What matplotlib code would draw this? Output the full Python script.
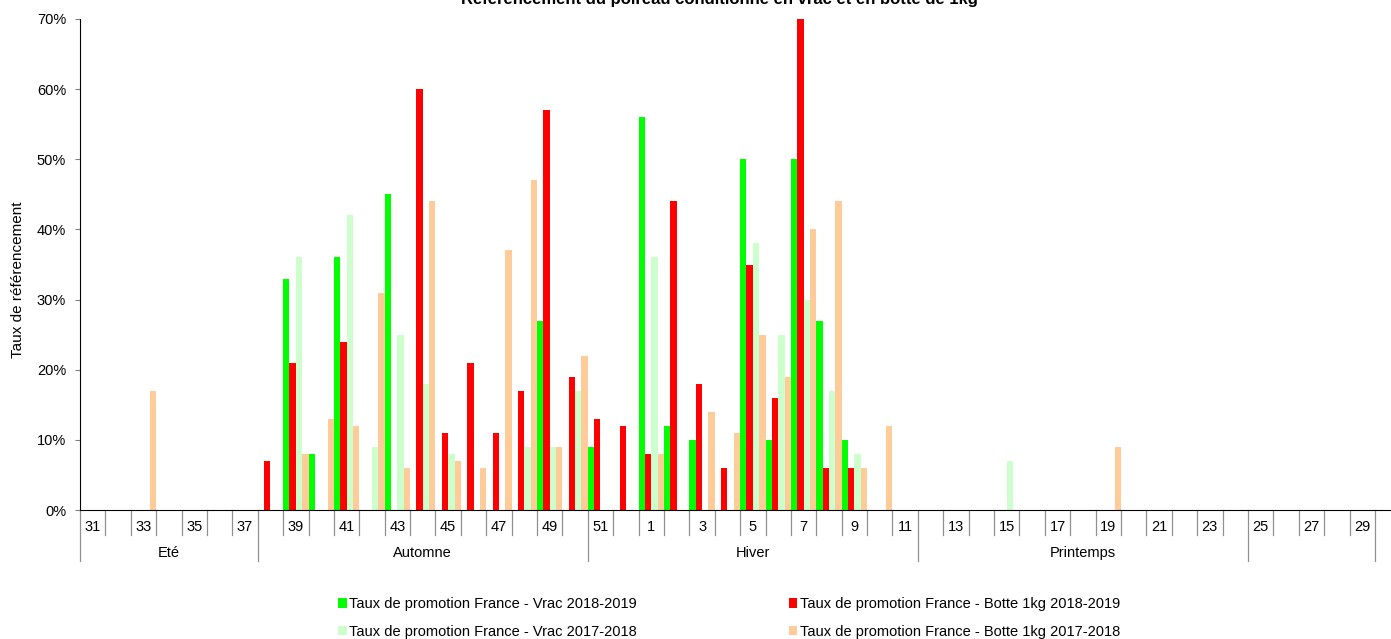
import matplotlib.pyplot as plt
import matplotlib.transforms as mtransforms
from matplotlib.patches import Patch
import numpy as np

plt.rcParams["font.family"] = ["Liberation Sans", "DejaVu Sans"]

# weeks 31..52 then 1..30
weeks = list(range(31, 53)) + list(range(1, 31))

#                 31-37                  38-50                                          51-11                                      12-24                     25-30
vrac_2018_19  = [0, 0, 0, 0, 0, 0, 0] + [0, 33, 8, 36, 0, 45, 0, 0, 0, 0, 0, 27, 0] + [9, 0, 56, 12, 10, 0, 50, 10, 50, 27, 10, 0, 0] + [0] * 13 + [0] * 6
botte_2018_19 = [0, 0, 0, 0, 0, 0, 0] + [7, 21, 0, 24, 0, 0, 60, 11, 21, 11, 17, 57, 19] + [13, 12, 8, 44, 18, 6, 35, 16, 70, 6, 6, 0, 0] + [0] * 13 + [0] * 6
vrac_2017_18  = [0, 0, 0, 0, 0, 0, 0] + [0, 36, 0, 42, 9, 25, 18, 8, 0, 0, 9, 9, 17] + [0, 0, 36, 0, 0, 0, 38, 25, 30, 17, 8, 0, 0] + [0, 0, 0, 7, 0, 0, 0, 0, 0, 0, 0, 0, 0] + [0] * 6
botte_2017_18 = [0, 0, 17, 0, 0, 0, 0] + [0, 8, 13, 12, 31, 6, 44, 7, 6, 37, 47, 9, 22] + [0, 0, 8, 0, 14, 11, 25, 19, 40, 44, 6, 12, 0] + [0, 0, 0, 0, 0, 0, 0, 9, 0, 0, 0, 0, 0] + [0] * 6

seasons = ["Eté", "Automne", "Hiver", "Printemps", ""]
season_lengths = [7, 13, 13, 13, 5]

series = [
    ("Taux de promotion France - Vrac 2018-2019", vrac_2018_19, "#00FF00"),
    ("Taux de promotion France - Botte 1kg 2018-2019", botte_2018_19, "#FF0000"),
    ("Taux de promotion France - Vrac 2017-2018", vrac_2017_18, "#CCFFCC"),
    ("Taux de promotion France - Botte 1kg 2017-2018", botte_2017_18, "#FFCC99"),
]

W, H = 1391, 639
fig = plt.figure(figsize=(W / 100, H / 100), dpi=100)
ax = fig.add_axes([80 / W, 1 - 510 / H, 1 - 80 / W, (510 - 19) / H])

x = np.arange(len(weeks))
bw = 0.25
for k, (name, vals, col) in enumerate(series):
    ax.bar(x + (k - 1.5) * bw, vals, width=bw, color=col, linewidth=0)

ax.set_ylim(0, 70)
ax.set_xlim(-0.5, (W - 80) / 25.39 - 0.5)
ax.set_yticks(range(0, 71, 10))
ax.set_yticklabels([f"{v}%" for v in range(0, 71, 10)], fontsize=10.5)
ax.tick_params(axis="y", length=3.6, color="#808080", pad=6.4)
ax.set_xticks([])
ax.set_ylabel("Taux de référencement", fontsize=11)
ax.yaxis.set_label_coords(-55 / 1311, 0.468)

for s in ["top", "right"]:
    ax.spines[s].set_visible(False)
ax.spines["left"].set_color("black")
ax.spines["bottom"].set_color("black")

# category axis: week ticks, week labels, season groups
trans = mtransforms.blended_transform_factory(ax.transData, ax.transAxes)
ax_h = 510 - 19
short = -25 / ax_h
long_ = -51 / ax_h

bounds = set(np.cumsum([0] + season_lengths))
for i in range(len(weeks) + 1):
    y1 = long_ if i in bounds else short
    ax.plot([i - 0.5, i - 0.5], [0, y1], transform=trans, color="#909090",
            linewidth=0.9, clip_on=False)

for i, w in enumerate(weeks):
    if w % 2 == 1:
        ax.text(i, -17 / ax_h, str(w), transform=trans, ha="center", va="center",
                fontsize=10.5)

start = 0
for name, n in zip(seasons, season_lengths):
    ax.text(start + (n - 1) / 2, -43 / ax_h, name, transform=trans, ha="center",
            va="center", fontsize=10.5)
    start += n

fig.text(719 / W, 1 - 4 / H, "Référencement du poireau conditionné en vrac et en botte de 1kg",
         ha="center", va="baseline", fontsize=12, fontweight="bold")

handles = [Patch(facecolor=c, edgecolor="none", label=n) for n, _, c in series]
handles = [handles[0], handles[2], handles[1], handles[3]]
fig.legend(handles=handles, ncol=2, loc="center", bbox_to_anchor=(729 / W, 1 - 618 / H),
           frameon=False, fontsize=10.5, handlelength=0.6, handleheight=0.6,
           handletextpad=0.15, columnspacing=10.4, labelspacing=0.95)

fig.savefig("out.png", dpi=100)
